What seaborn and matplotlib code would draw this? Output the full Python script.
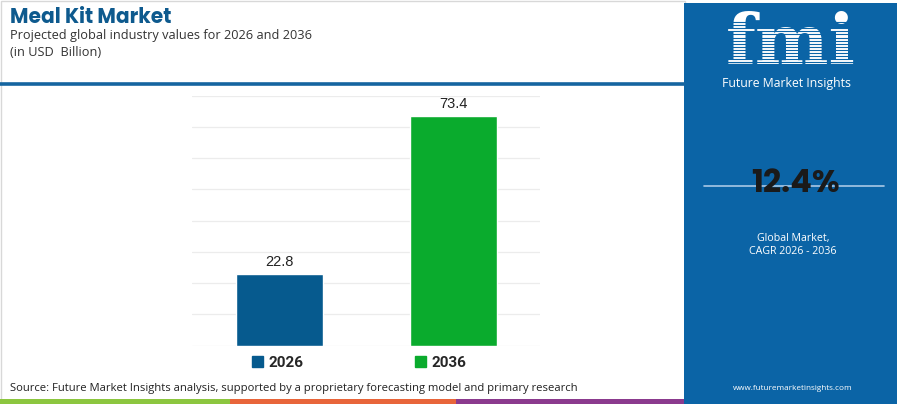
import pandas as pd
import matplotlib.pyplot as plt
import seaborn as sns
from matplotlib.lines import Line2D
from matplotlib.patches import Rectangle

# values
years = ['2026', '2036']
market_value = [22.8, 73.4]
bar_colors = ['#065a8e', '#0aab2d']
cagr_text = '12.4%'

df = pd.DataFrame({'Year': years, 'Value': market_value})

sns.set_theme(style='white')
plt.rcParams['font.family'] = ['Open Sans', 'DejaVu Sans']

W, H = 900, 404
fig = plt.figure(figsize=(9, 4.04), dpi=100)
fig.patch.set_facecolor('white')


def fx(px):
    return px / W


def fy(py):
    return 1 - py / H


# frame, separator and bottom colour strip
fig.add_artist(Rectangle((fx(1), fy(403)), fx(684), 402 / H, transform=fig.transFigure,
                         fill=False, edgecolor='#d8d8d8', lw=1))
fig.add_artist(Line2D([0, fx(684)], [fy(83.5), fy(83.5)], transform=fig.transFigure,
                      color='#1565a0', lw=2.6))
for x0, x1, c in [(0, 230, '#8cc63f'), (230, 456, '#e8653a'), (456, 684, '#8b3a8e')]:
    fig.add_artist(Rectangle((fx(x0), 0), fx(x1 - x0), 5.5 / H, transform=fig.transFigure,
                             color=c, lw=0))

# right panel
fig.add_artist(Rectangle((fx(684), 0), fx(213), fy(3), transform=fig.transFigure,
                         color='#0b64a6', lw=0))

# titles
fig.text(fx(10), fy(18), 'Meal Kit Market', fontsize=14.5, fontweight='bold',
         color='#0e5a8e', va='center', family=['Poppins', 'Open Sans', 'DejaVu Sans'])
fig.text(fx(10), fy(35), 'Projected global industry values for 2026 and 2036',
         fontsize=9.2, color='#333333', va='center')
fig.text(fx(10), fy(53), '(in USD  Billion)', fontsize=9.2, color='#333333', va='center')
fig.text(fx(10), fy(388), 'Source: Future Market Insights analysis, supported by a proprietary '
         'forecasting model and primary research', fontsize=8.1, color='#222222', va='center')

# chart
ax = fig.add_axes([fx(192), fy(345.7), fx(348), (345.7 - 95.7) / H])
sns.barplot(data=df, x='Year', y='Value', hue='Year', palette=bar_colors,
            width=0.5, ax=ax, legend=False, saturation=1)
ax.set_ylim(0, 80)
ax.set_xlim(-0.5, 1.5)
ax.set_yticks(range(0, 81, 10))
ax.yaxis.grid(True, color='#ececec', lw=0.9)
ax.set_axisbelow(True)
ax.set_yticklabels([])
ax.set_xticks([])
ax.set_xlabel('')
ax.set_ylabel('')
ax.tick_params(length=0)
sns.despine(ax=ax, left=True, bottom=True)
for cont in ax.containers:
    ax.bar_label(cont, fmt='%.1f', padding=4, fontsize=10.5, color='#222222',
                 family=['Liberation Sans', 'DejaVu Sans'])

handles = [Rectangle((0, 0), 1, 1, color=c) for c in bar_colors]
ax.legend(handles, years, loc='center', bbox_to_anchor=(0.48, -0.07), ncol=2,
          frameon=False, handlelength=0.75, handleheight=0.75, handletextpad=0.35,
          columnspacing=7.3, prop={'weight': 'bold', 'size': 11, 'family': 'Roboto'})

# logo
fig.text(fx(791), fy(44), 'fmi', fontsize=50, fontweight='bold', color='white',
         ha='center', va='center', family=['DejaVu Serif'])
for i in range(15):
    yy = 22 + i * 3.1
    fig.add_artist(Line2D([fx(715), fx(866)], [fy(yy), fy(yy)], transform=fig.transFigure,
                          color='#0b64a6', lw=0.8, zorder=10))
fig.text(fx(787), fy(83), 'Future Market Insights', fontsize=8.8, color='white',
         ha='center', va='center')

# CAGR
fig.add_artist(Line2D([fx(704), fx(884)], [fy(186), fy(186)], transform=fig.transFigure,
                      color='#a9c8e6', lw=1.2))
fig.text(fx(795), fy(184), cagr_text, fontsize=23, fontweight='bold', color='#1a1a1a',
         ha='center', va='center', family=['Poppins', 'Open Sans', 'DejaVu Sans'], zorder=11)
fig.text(fx(793), fy(238), 'Global Market,', fontsize=7.7, color='white', ha='center', va='center')
fig.text(fx(793), fy(251), 'CAGR 2026 - 2036', fontsize=7.7, color='white', ha='center', va='center')
fig.text(fx(793), fy(389), 'www.futuremarketinsights.com', fontsize=5.9, color='white',
         ha='center', va='center')

fig.savefig('out.png', dpi=100)
